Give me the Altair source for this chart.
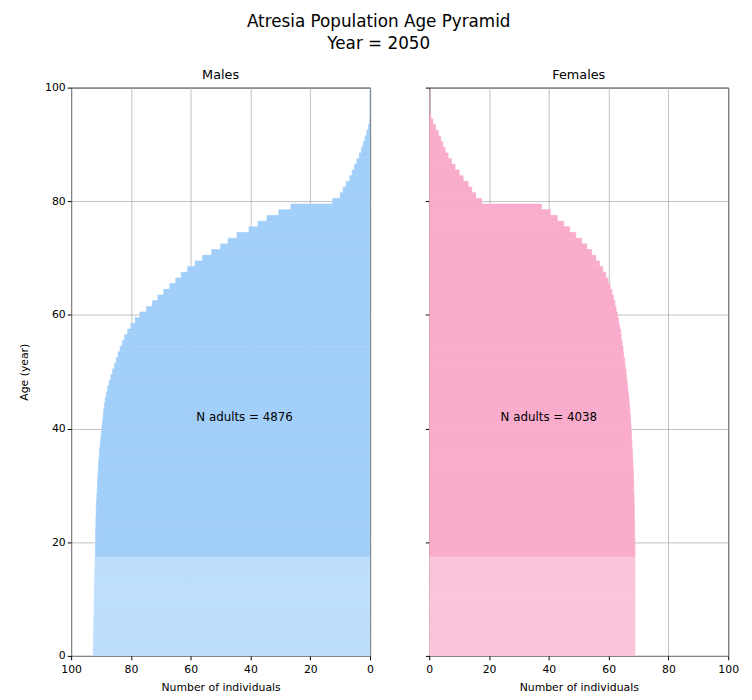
import altair as alt
import pandas as pd

ages = list(range(100))

males = [
    92.6, 92.6, 92.5, 92.5, 92.5, 92.4, 92.4, 92.4, 92.3, 92.3,
    92.3, 92.2, 92.2, 92.2, 92.1, 92.1, 92.0, 92.0, 91.9, 91.9,
    91.8, 91.8, 91.8, 91.7, 91.7, 91.6, 91.6, 91.5, 91.4, 91.3,
    91.2, 91.1, 91.0, 90.9, 90.8, 90.6, 90.5, 90.3, 90.1, 89.9,
    89.7, 89.5, 89.3, 89.1, 88.9, 88.6, 88.2, 87.8, 87.3, 86.7,
    86.1, 85.5, 84.9, 84.3, 83.6, 82.9, 82.1, 81.1, 80.0, 78.6,
    77.0, 74.8, 72.8, 71.0, 69.0, 67.0, 65.0, 63.2, 61.0, 58.5,
    56.0, 53.0, 50.0, 47.5, 44.5, 40.5, 37.5, 34.5, 30.5, 26.5,
    12.5, 10.0, 9.0, 8.0, 6.8, 6.0, 5.2, 4.4, 3.6, 2.9,
    2.3, 1.7, 1.1, 0.6, 0.2, 0.0, 0.0, 0.0, 0.0, 0.0,
]

females = [
    68.8, 68.8, 68.8, 68.8, 68.8, 68.8, 68.8, 68.8, 68.8, 68.8,
    68.8, 68.8, 68.8, 68.8, 68.8, 68.8, 68.8, 68.8, 68.8, 68.8,
    68.8, 68.7, 68.7, 68.7, 68.6, 68.6, 68.6, 68.5, 68.5, 68.4,
    68.4, 68.3, 68.3, 68.2, 68.1, 68.0, 67.9, 67.8, 67.7, 67.6,
    67.5, 67.4, 67.3, 67.1, 67.0, 66.8, 66.6, 66.4, 66.2, 66.0,
    65.8, 65.5, 65.3, 65.0, 64.8, 64.5, 64.2, 64.0, 63.6, 63.3,
    62.9, 62.5, 62.1, 61.6, 61.1, 60.5, 59.8, 59.0, 58.0, 56.9,
    55.7, 54.3, 52.7, 51.0, 49.0, 47.0, 45.0, 42.8, 40.5, 37.5,
    17.5, 15.5, 14.2, 13.0, 11.3, 10.0, 8.6, 7.4, 6.3, 5.3,
    4.5, 3.8, 3.0, 2.1, 1.2, 0.5, 0.0, 0.0, 0.0, 0.0,
]

adult_age = 18
n_adults = {"Males": 4876, "Females": 4038}
label_pos = {"Males": (42, 42), "Females": (40, 42)}
tick_values = [0, 20, 40, 60, 80, 100]

colors = {
    "Males": ["#bddffd", "#a2cffa"],
    "Females": ["#fbc5da", "#f9accb"],
}

df = pd.DataFrame({"age": ages, "Males": males, "Females": females})


def panel(sex, reverse, first):
    d = pd.DataFrame({
        "age": df["age"],
        "count": df[sex],
        "stage": ["child" if a < adult_age else "adult" for a in df["age"]],
    })
    d["lo"] = d["age"] - 0.5
    d["hi"] = d["age"] + 0.5
    d["zero"] = 0

    xscale = alt.Scale(domain=[0, 100], reverse=reverse, nice=False, zero=True)
    yscale = alt.Scale(domain=[0, 100], nice=False)
    cscale = alt.Scale(domain=["child", "adult"], range=colors[sex])

    if first:
        yaxis = alt.Axis(values=tick_values, title="Age (year)", labels=True,
                         titlePadding=15)
    else:
        yaxis = alt.Axis(values=tick_values, title=None, labels=True,
                         labelOpacity=0)

    bars = alt.Chart(d).mark_rect(clip=True, strokeWidth=0.7).encode(
        x=alt.X("count:Q", scale=xscale,
                axis=alt.Axis(values=tick_values, title="Number of individuals",
                              labelPadding=4, titlePadding=7)),
        x2="zero:Q",
        y=alt.Y("lo:Q", scale=yscale, axis=yaxis),
        y2="hi:Q",
        color=alt.Color("stage:N", scale=cscale, legend=None),
        stroke=alt.Stroke("stage:N", scale=cscale, legend=None),
    )

    lx, ly = label_pos[sex]
    tdf = pd.DataFrame({"count": [lx], "lo": [ly],
                        "t": [f"N adults = {n_adults[sex]}"]})
    text = alt.Chart(tdf).mark_text(fontSize=12, color="black",
                                    font="DejaVu Sans").encode(
        x="count:Q", y="lo:Q", text="t:N")

    return alt.layer(bars, text).properties(
        width=303, height=576,
        title=alt.TitleParams(sex, fontSize=13, fontWeight="normal",
                              font="DejaVu Sans", offset=0, frame="group",
                              anchor="middle", color="black"),
    )


chart = alt.hconcat(
    panel("Males", True, True),
    panel("Females", False, False),
    spacing=28,
).resolve_scale(
    color="independent", stroke="independent"
).properties(
    padding={"left": 10, "top": 0, "right": 5, "bottom": 0},
    title=alt.TitleParams(
        ["Atresia Population Age Pyramid", "Year = 2050"],
        fontSize=17, fontWeight="normal", font="DejaVu Sans",
        anchor="middle", color="black", offset=16, lineHeight=22,
    ),
).configure_view(
    stroke="black", strokeWidth=1
).configure_axis(
    grid=True, gridColor="#b0b0b0", gridWidth=0.8, domain=False,
    tickColor="black", tickSize=4, labelFontSize=11, labelColor="black",
    labelFont="DejaVu Sans", titleFont="DejaVu Sans", titleFontSize=11,
    titleFontWeight="normal", titleColor="black", labelFlush=False,
    zindex=1,
)

chart.save("out.html", embed_options={"renderer": "svg", "actions": False})
